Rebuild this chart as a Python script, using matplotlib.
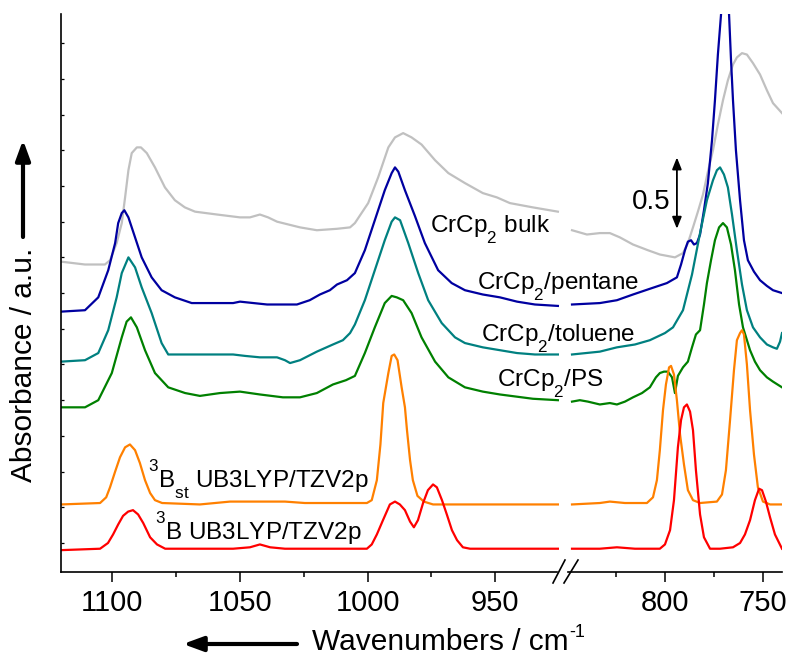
import numpy as np
import matplotlib
matplotlib.use('Agg')
import matplotlib.pyplot as plt
import matplotlib._mathtext as mathtext_internals
from matplotlib.lines import Line2D
from matplotlib.patches import FancyArrowPatch

plt.rcParams['font.family'] = ['Liberation Sans', 'DejaVu Sans']
plt.rcParams['mathtext.fontset'] = 'custom'
plt.rcParams['mathtext.rm'] = 'Liberation Sans'
plt.rcParams['mathtext.it'] = 'Liberation Sans:italic'
plt.rcParams['mathtext.default'] = 'regular'
# Origin-style labels: subscripts sit well below the baseline, superscripts well above
mathtext_internals.FontConstantsBase.sub1 = 0.85
mathtext_internals.FontConstantsBase.sup1 = 1.25

# spectra: (wavenumber / cm-1, absorbance, offset as drawn)
# each curve comes in two pieces, one for each side of the axis break

bulk_hi = np.array([
    (1120.1, 1.97), (1110.7, 1.95), (1102.9, 1.95), (1100.9, 1.98), (1098.3, 2.10),
    (1096.3, 2.24), (1095.0, 2.42), (1093.7, 2.61), (1092.4, 2.73), (1090.4, 2.77),
    (1088.8, 2.77), (1086.5, 2.73), (1083.3, 2.63), (1079.4, 2.49), (1075.5, 2.40),
    (1071.6, 2.35), (1067.6, 2.32), (1059.0, 2.30), (1050.0, 2.28), (1046.1, 2.28),
    (1042.2, 2.30), (1039.0, 2.28), (1035.5, 2.25), (1026.5, 2.21), (1019.9, 2.19),
    (1012.0, 2.20), (1006.9, 2.21), (1005.0, 2.24), (999.8, 2.38), (995.9, 2.56),
    (991.9, 2.77), (989.3, 2.84), (986.1, 2.87), (982.8, 2.84), (978.9, 2.79),
    (973.6, 2.68), (968.4, 2.59), (961.9, 2.52), (954.9, 2.45), (949.4, 2.42),
    (944.3, 2.38), (935.3, 2.35), (925.5, 2.32)])
bulk_lo = np.array([
    (847.4, 2.19), (839.8, 2.16), (833.2, 2.17), (828.1, 2.17), (823.0, 2.14),
    (816.3, 2.09), (808.7, 2.05), (802.6, 2.02), (794.9, 2.00), (790.8, 2.03),
    (788.3, 2.10), (785.7, 2.21), (783.2, 2.32), (780.6, 2.44), (778.1, 2.60),
    (775.5, 2.75), (773.0, 2.93), (770.4, 3.10), (767.9, 3.24), (765.3, 3.35),
    (763.3, 3.40), (760.7, 3.43), (758.2, 3.42), (755.1, 3.36), (751.5, 3.28),
    (748.0, 3.17), (744.9, 3.08), (740.3, 3.01)])

pentane_hi = np.array([
    (1120.1, 1.62), (1110.7, 1.63), (1105.5, 1.72), (1101.6, 1.91), (1098.9, 2.10),
    (1097.7, 2.24), (1096.3, 2.31), (1095.3, 2.33), (1093.7, 2.28), (1091.1, 2.14),
    (1088.5, 2.00), (1084.6, 1.86), (1080.7, 1.77), (1075.5, 1.72), (1068.9, 1.68),
    (1052.7, 1.68), (1050.0, 1.69), (1039.4, 1.67), (1027.7, 1.67), (1022.7, 1.70),
    (1018.7, 1.74), (1014.8, 1.77), (1012.0, 1.81), (1008.1, 1.84), (1005.0, 1.89),
    (1001.1, 2.05), (997.2, 2.26), (993.3, 2.47), (990.6, 2.59), (989.3, 2.63),
    (988.0, 2.60), (985.4, 2.47), (981.5, 2.29), (977.6, 2.10), (972.4, 1.91),
    (967.1, 1.82), (961.9, 1.77), (954.9, 1.74), (948.2, 1.72), (941.5, 1.69),
    (934.5, 1.67), (925.5, 1.66)])
pentane_lo = np.array([
    (847.4, 1.67), (833.2, 1.68), (824.5, 1.70), (816.3, 1.74), (807.7, 1.78),
    (799.0, 1.82), (793.9, 1.86), (791.8, 1.95), (789.8, 2.05), (788.3, 2.11),
    (786.7, 2.12), (785.2, 2.09), (783.7, 2.10), (782.1, 2.16), (780.1, 2.33),
    (778.1, 2.52), (776.0, 2.82), (774.5, 3.10), (773.0, 3.42), (771.4, 3.70),
    (769.9, 4.05), (767.3, 3.70), (766.3, 3.38), (765.3, 3.10), (763.8, 2.75),
    (761.7, 2.40), (759.7, 2.12), (757.7, 1.98), (754.6, 1.90), (751.5, 1.84),
    (748.0, 1.80), (744.9, 1.77), (740.3, 1.75)])

toluene_hi = np.array([
    (1120.1, 1.27), (1110.7, 1.28), (1105.5, 1.33), (1101.6, 1.49), (1098.3, 1.72),
    (1096.3, 1.89), (1093.7, 2.00), (1091.1, 1.93), (1088.5, 1.79), (1084.6, 1.61),
    (1080.7, 1.40), (1078.1, 1.32), (1067.6, 1.32), (1052.7, 1.32), (1048.0, 1.31),
    (1042.2, 1.30), (1035.5, 1.30), (1032.4, 1.28), (1030.4, 1.26), (1026.5, 1.28),
    (1019.9, 1.34), (1013.6, 1.39), (1009.7, 1.42), (1006.9, 1.47), (1005.0, 1.53),
    (1001.1, 1.70), (997.2, 1.91), (993.3, 2.12), (990.6, 2.25), (989.3, 2.28),
    (987.3, 2.26), (984.1, 2.10), (980.2, 1.89), (976.3, 1.70), (971.0, 1.54),
    (965.8, 1.44), (961.9, 1.40), (954.9, 1.37), (948.2, 1.35), (941.5, 1.33),
    (934.5, 1.32), (925.5, 1.32)])
toluene_lo = np.array([
    (847.4, 1.32), (833.2, 1.34), (824.5, 1.37), (815.3, 1.39), (807.7, 1.42),
    (800.0, 1.47), (795.9, 1.51), (790.8, 1.63), (786.2, 1.88), (782.1, 2.17),
    (778.6, 2.40), (775.5, 2.54), (773.5, 2.61), (771.9, 2.63), (769.9, 2.58),
    (767.9, 2.49), (765.8, 2.30), (763.3, 2.05), (760.7, 1.81), (758.2, 1.63),
    (755.1, 1.51), (751.5, 1.44), (748.0, 1.39), (744.9, 1.37), (742.9, 1.36),
    (741.3, 1.41), (740.3, 1.47)])

ps_hi = np.array([
    (1120.1, 0.95), (1110.7, 0.95), (1105.5, 1.00), (1100.2, 1.19), (1096.3, 1.44),
    (1094.4, 1.55), (1092.7, 1.58), (1090.4, 1.51), (1087.2, 1.35), (1083.3, 1.19),
    (1078.1, 1.09), (1071.5, 1.05), (1065.7, 1.03), (1057.8, 1.05), (1050.0, 1.06),
    (1042.2, 1.04), (1033.2, 1.02), (1026.5, 1.02), (1019.9, 1.05), (1013.6, 1.11),
    (1008.5, 1.14), (1005.0, 1.17), (1001.1, 1.33), (997.2, 1.51), (993.3, 1.68),
    (990.6, 1.73), (988.6, 1.72), (986.1, 1.70), (982.8, 1.61), (978.9, 1.44),
    (973.6, 1.27), (968.4, 1.16), (961.9, 1.09), (954.9, 1.06), (948.2, 1.04),
    (935.3, 1.01), (925.5, 1.00)])
ps_lo = np.array([
    (847.4, 0.99), (843.4, 1.00), (839.3, 0.99), (833.2, 0.97), (828.1, 0.98),
    (824.5, 0.97), (820.4, 0.99), (816.3, 1.02), (811.7, 1.05), (807.7, 1.09),
    (804.6, 1.16), (802.6, 1.19), (800.5, 1.20), (798.5, 1.20), (796.4, 1.16),
    (794.9, 1.05), (793.4, 1.17), (790.8, 1.23), (788.3, 1.27), (786.2, 1.37),
    (784.2, 1.46), (782.1, 1.49), (780.1, 1.67), (778.6, 1.82), (776.5, 1.98),
    (774.5, 2.12), (772.4, 2.21), (770.4, 2.24), (768.4, 2.21), (766.3, 2.09),
    (764.3, 1.91), (762.2, 1.67), (760.2, 1.51), (756.6, 1.35), (754.1, 1.27),
    (751.5, 1.21), (748.0, 1.16), (744.9, 1.13), (740.3, 1.09)])

b3st_hi = np.array([
    (1120.1, 0.27), (1104.8, 0.28), (1102.4, 0.32), (1100.9, 0.39), (1098.9, 0.50),
    (1097.0, 0.60), (1095.0, 0.67), (1093.1, 0.69), (1091.1, 0.65), (1089.2, 0.56),
    (1087.2, 0.44), (1085.2, 0.35), (1083.3, 0.30), (1080.5, 0.28), (1065.7, 0.27),
    (1053.9, 0.29), (1046.1, 0.29), (1039.4, 0.29), (1032.4, 0.29), (1024.6, 0.28),
    (1000.3, 0.28), (998.4, 0.30), (996.4, 0.44), (995.0, 0.69), (993.9, 0.98),
    (991.9, 1.19), (990.6, 1.31), (989.6, 1.32), (988.3, 1.28), (986.7, 1.09),
    (985.4, 0.95), (984.6, 0.79), (983.4, 0.58), (982.3, 0.44), (980.5, 0.33),
    (978.0, 0.29), (974.4, 0.27), (925.5, 0.27)])
b3st_lo = np.array([
    (847.4, 0.27), (833.2, 0.28), (828.1, 0.29), (820.4, 0.28), (809.2, 0.28),
    (806.1, 0.32), (804.1, 0.44), (802.6, 0.65), (801.0, 0.93), (799.5, 1.11),
    (797.9, 1.23), (796.9, 1.24), (795.4, 1.18), (793.9, 1.00), (792.3, 0.76),
    (790.3, 0.55), (788.3, 0.37), (785.7, 0.30), (782.1, 0.28), (773.5, 0.29),
    (770.9, 0.34), (768.9, 0.51), (766.8, 0.86), (764.8, 1.21), (763.3, 1.42),
    (761.7, 1.47), (760.7, 1.49), (759.7, 1.46), (758.2, 1.25), (756.6, 0.93),
    (754.6, 0.62), (752.6, 0.39), (750.0, 0.29), (746.4, 0.27), (740.3, 0.27)])

b3_hi = np.array([
    (1120.1, -0.05), (1104.8, -0.04), (1101.7, 0.00), (1099.7, 0.06), (1097.7, 0.13),
    (1095.8, 0.19), (1093.8, 0.22), (1091.9, 0.23), (1089.9, 0.20), (1087.9, 0.14),
    (1085.2, 0.04), (1082.5, -0.01), (1079.3, -0.04), (1065.7, -0.04), (1052.7, -0.04),
    (1046.1, -0.03), (1042.2, -0.01), (1038.2, -0.03), (1032.4, -0.04), (1000.3, -0.04),
    (998.4, -0.01), (996.4, 0.06), (994.0, 0.16), (991.3, 0.27), (989.3, 0.29),
    (987.4, 0.27), (985.4, 0.23), (983.4, 0.15), (981.9, 0.11), (980.3, 0.16),
    (978.3, 0.28), (976.4, 0.37), (974.4, 0.41), (972.9, 0.39), (970.9, 0.30),
    (969.0, 0.20), (967.0, 0.09), (965.0, 0.02), (962.7, -0.03), (959.9, -0.04),
    (925.5, -0.04)])
b3_lo = np.array([
    (847.4, -0.04), (833.2, -0.04), (824.5, -0.03), (815.3, -0.04), (802.6, -0.04),
    (800.0, -0.01), (797.4, 0.09), (795.4, 0.30), (793.4, 0.67), (791.8, 0.86),
    (790.3, 0.95), (788.8, 0.97), (787.2, 0.92), (785.7, 0.79), (784.2, 0.51),
    (782.1, 0.20), (780.1, 0.04), (777.0, -0.04), (771.9, -0.04), (765.3, -0.03),
    (761.7, 0.00), (759.2, 0.06), (756.6, 0.16), (754.1, 0.30), (752.0, 0.38),
    (750.5, 0.37), (748.5, 0.29), (746.4, 0.18), (743.9, 0.06), (740.3, -0.04)])

spectra = [
    (bulk_hi, bulk_lo, '#c0c0c0'),
    (pentane_hi, pentane_lo, '#0000a0'),
    (toluene_hi, toluene_lo, '#008080'),
    (ps_hi, ps_lo, '#008000'),
    (b3st_hi, b3st_lo, '#ff8000'),
    (b3_hi, b3_lo, '#ff0000'),
]

# figure in pixel terms (789 x 657 at dpi 100)
W, H = 789, 657
def fx(px):
    return px / W
def fy(py):
    return 1 - py / H

fig = plt.figure(figsize=(7.89, 6.57), dpi=100)
ax1 = fig.add_axes([fx(61), fy(572), fx(563) - fx(61), fy(14) - fy(572)])
ax2 = fig.add_axes([fx(563), fy(572), fx(782) - fx(563), fy(14) - fy(572)])

for hi, lo, c in spectra:
    ax1.plot(hi[:, 0], hi[:, 1], color=c, lw=1.6, solid_joinstyle='round')
    ax2.plot(lo[:, 0], lo[:, 1], color=c, lw=1.6, solid_joinstyle='round')

ax1.set_xlim(1120.1, 923.5)
ax2.set_xlim(852.0, 740.3)
for ax in (ax1, ax2):
    ax.set_ylim(-0.203, 3.704)
    ax.patch.set_visible(False)
    ax.spines['top'].set_visible(False)
    ax.spines['right'].set_visible(False)
    ax.spines['bottom'].set_linewidth(1.2)
ax2.spines['left'].set_visible(False)
ax1.spines['left'].set_linewidth(1.2)
ax1.spines['bottom'].set_bounds(1120.1, 926.0)
ax2.spines['bottom'].set_bounds(849.3, 740.3)

ax1.set_xticks([1100, 1050, 1000, 950])
ax1.set_xticks([1075, 1025, 975], minor=True)
ax2.set_xticks([800, 750])
ax2.set_xticks([825, 775], minor=True)
for ax in (ax1, ax2):
    ax.tick_params(axis='x', which='major', direction='out', length=7.5, width=1.1,
                   labelsize=21, pad=5)
    ax.tick_params(axis='x', which='minor', direction='out', length=3.8, width=1.1)
ax1.set_yticks(np.arange(0, 3.6, 0.25))
ax1.tick_params(axis='y', direction='in', length=2, width=0.9, labelleft=False)
ax2.tick_params(axis='y', left=False, labelleft=False)

# axis break marks
for x0, x1 in [(553, 565), (564, 578)]:
    fig.add_artist(Line2D([fx(x0), fx(x1)], [fy(583), fy(560)], color='k', lw=1.2,
                          transform=fig.transFigure))

# curve labels
lab = dict(fontsize=17.5, ha='left', va='baseline')
ax1.text(975.6, 2.17, 'CrCp$_2$ bulk', **lab)
ax1.text(957.3, 1.77, 'CrCp$_2$/pentane', **lab)
ax1.text(955.7, 1.41, 'CrCp$_2$/toluene', **lab)
ax1.text(949.4, 1.09, 'CrCp$_2$/PS', **lab)
ax1.text(1086.0, 0.385, '$^3$B$_{st}$ UB3LYP/TZV2p', **lab)
ax1.text(1083.3, 0.02, '$^3$B UB3LYP/TZV2p', **lab)

# 0.5 absorbance scale bar
ax2.annotate('', xy=(793.9, 2.70), xytext=(793.9, 2.20),
             arrowprops=dict(arrowstyle='<|-|>,head_length=0.5,head_width=0.2',
                             color='k', lw=1.3, shrinkA=0, shrinkB=0, mutation_scale=14))
ax2.text(797.4, 2.34, '0.5', fontsize=20, ha='right', va='baseline')

# axis titles with direction arrows
fig.text(fx(24), fy(365), 'Absorbance / a.u.', rotation=90, ha='center', va='center',
         fontsize=21.5)
xl = fig.text(fx(312), fy(650), 'Wavenumbers / cm', ha='left', va='baseline', fontsize=21.5)
bb = xl.get_window_extent(renderer=fig.canvas.get_renderer())
fig.text((bb.x1 + 1) / W, fy(637), '-1', ha='left', va='baseline', fontsize=13)
fig.add_artist(FancyArrowPatch((fx(23), fy(237)), (fx(23), fy(140)), transform=fig.transFigure,
                               arrowstyle='-|>,head_length=0.6,head_width=0.22',
                               mutation_scale=20, lw=3, color='k', shrinkA=0, shrinkB=0))
fig.add_artist(FancyArrowPatch((fx(297), fy(644)), (fx(183), fy(644)), transform=fig.transFigure,
                               arrowstyle='-|>,head_length=0.6,head_width=0.22',
                               mutation_scale=20, lw=3, color='k', shrinkA=0, shrinkB=0))

fig.savefig('out.png', dpi=100, facecolor='white')
